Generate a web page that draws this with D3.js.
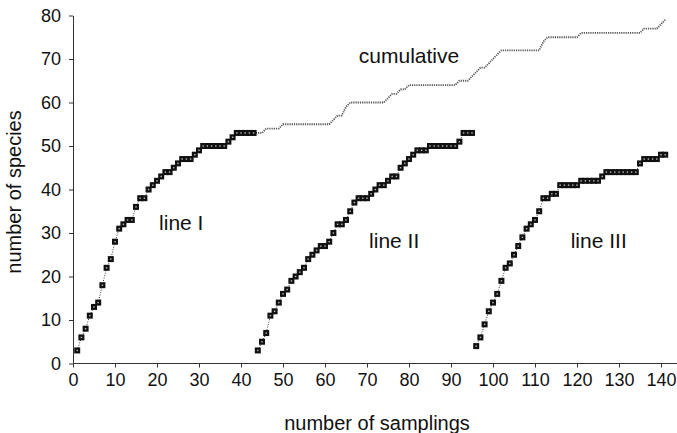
<!DOCTYPE html>
<html><head><meta charset="utf-8">
<script src="https://cdn.jsdelivr.net/npm/d3@7"></script>
<style>
body{margin:0;background:#fff}
svg{display:block}
text{font-family:"Liberation Sans",Arial,Helvetica,sans-serif;fill:#111}
</style>
</head><body>
<svg id="c" width="677" height="433"></svg>
<script>
// ---- data ----
const xTicks = [0,10,20,30,40,50,60,70,80,90,100,110,120,130,140];
const yTicks = [0,10,20,30,40,50,60,70,80];

const lineIStart = 1;
const lineIValues = [3,6,8,11,13,14,18,22,24,28,31,32,33,33,36,38,38,40,41,42,43,44,44,45,46,47,47,47,48,49,50,50,50,50,50,50,51,52,53,53,53,53,53];

const lineIIStart = 44;
const lineIIValues = [3,5,7,11,12,14,16,17,19,20,21,22,24,25,26,27,27,28,30,32,32,33,35,37,38,38,38,39,40,41,41,42,43,43,45,46,47,48,49,49,49,50,50,50,50,50,50,50,51,53,53,53];

const lineIIIStart = 96;
const lineIIIValues = [4,6,9,12,14,16,19,22,23,25,27,29,31,32,33,35,38,38,39,39,41,41,41,41,41,42,42,42,42,42,43,44,44,44,44,44,44,44,44,46,47,47,47,47,48,48];

const cumulativeStart = 43;
const cumulativeValues = [53,53,53,54,54,54,54,55,
  55,55,55,55,55,55,55,55,55,55,55,
  56,57,57,59,60,
  60,60,60,60,60,60,60,60,
  61,62,62,63,63,64,
  64,64,64,64,64,64,64,64,64,64,64,
  65,65,65,66,67,68,68,69,70,71,72,
  72,72,72,72,72,72,72,72,72,
  74,
  75,75,75,75,75,75,75,75,
  76,76,76,76,76,76,76,76,76,76,76,76,76,76,76,
  77,77,77,77,
  78,79];

const labels = [
  {text:"cumulative", s:80, v:69.1, anchor:"middle"},
  {text:"line I", s:20.5, v:30.6, anchor:"start"},
  {text:"line II", s:70.5, v:26.5, anchor:"start"},
  {text:"line III", s:118.5, v:26.5, anchor:"start"}
];

// ---- chart ----
const W = 677, H = 433;
const svg = d3.select("#c");
const x = d3.scaleLinear().domain([0,140]).range([73,661]);
const y = d3.scaleLinear().domain([0,80]).range([363.5,15.5]);

const toPts = (start, vals) => vals.map((v,i)=>({s:start+i, v}));
const sI = toPts(lineIStart, lineIValues);
const sII = toPts(lineIIStart, lineIIValues);
const sIII = toPts(lineIIIStart, lineIIIValues);
const sC = toPts(cumulativeStart, cumulativeValues);

// axes
const gy = svg.append("g").attr("transform",`translate(${x(0)},0)`)
  .call(d3.axisLeft(y).tickValues(yTicks).tickSize(4).tickSizeOuter(0).tickPadding(8));
gy.select(".domain").attr("stroke","#333");
gy.selectAll(".tick line").attr("stroke","#333");
gy.selectAll(".tick text").attr("font-size",18).attr("font-family","Liberation Sans, Arial, sans-serif").attr("fill","#111");

const gx = svg.append("g").attr("transform",`translate(0,${y(0)})`)
  .call(d3.axisBottom(x).tickValues(xTicks).tickSize(4).tickSizeOuter(0).tickPadding(6));
gx.select(".domain").attr("stroke","#333").attr("d",`M${x(0)},0H${W}`);
gx.selectAll(".tick line").attr("stroke","#333");
gx.selectAll(".tick text").attr("font-size",18).attr("font-family","Liberation Sans, Arial, sans-serif").attr("fill","#111");

// axis titles
svg.append("text").attr("x",377).attr("y",430).attr("text-anchor","middle")
  .attr("font-size",20).text("number of samplings");
svg.append("text").attr("transform",`translate(21,192) rotate(-90)`).attr("text-anchor","middle")
  .attr("font-size",20).text("number of species");

const lineGen = d3.line().x(d=>x(d.s)).y(d=>y(d.v));

// cumulative
svg.append("path").datum(sC).attr("d",lineGen)
  .attr("fill","none").attr("stroke","#555").attr("stroke-width",1.8).attr("stroke-dasharray","1.2,1");

// lines with markers
[sI,sII,sIII].forEach(series=>{
  svg.append("path").datum(series).attr("d",lineGen)
    .attr("fill","none").attr("stroke","#333").attr("stroke-width",1).attr("stroke-dasharray","1,1.5");
  const g = svg.append("g");
  g.selectAll("rect.m").data(series).join("rect").attr("class","m")
    .attr("x",d=>x(d.s)-3).attr("y",d=>y(d.v)-3).attr("width",6).attr("height",6).attr("fill","#111");
  g.selectAll("rect.c").data(series).join("rect").attr("class","c")
    .attr("x",d=>x(d.s)-0.7).attr("y",d=>y(d.v)-0.7).attr("width",1.4).attr("height",1.4).attr("fill","#bbb");
});

// annotations
svg.selectAll("text.lbl").data(labels).join("text").attr("class","lbl")
  .attr("x",d=>x(d.s)).attr("y",d=>y(d.v)).attr("text-anchor",d=>d.anchor)
  .attr("font-size",21).text(d=>d.text);
</script>
</body></html>
